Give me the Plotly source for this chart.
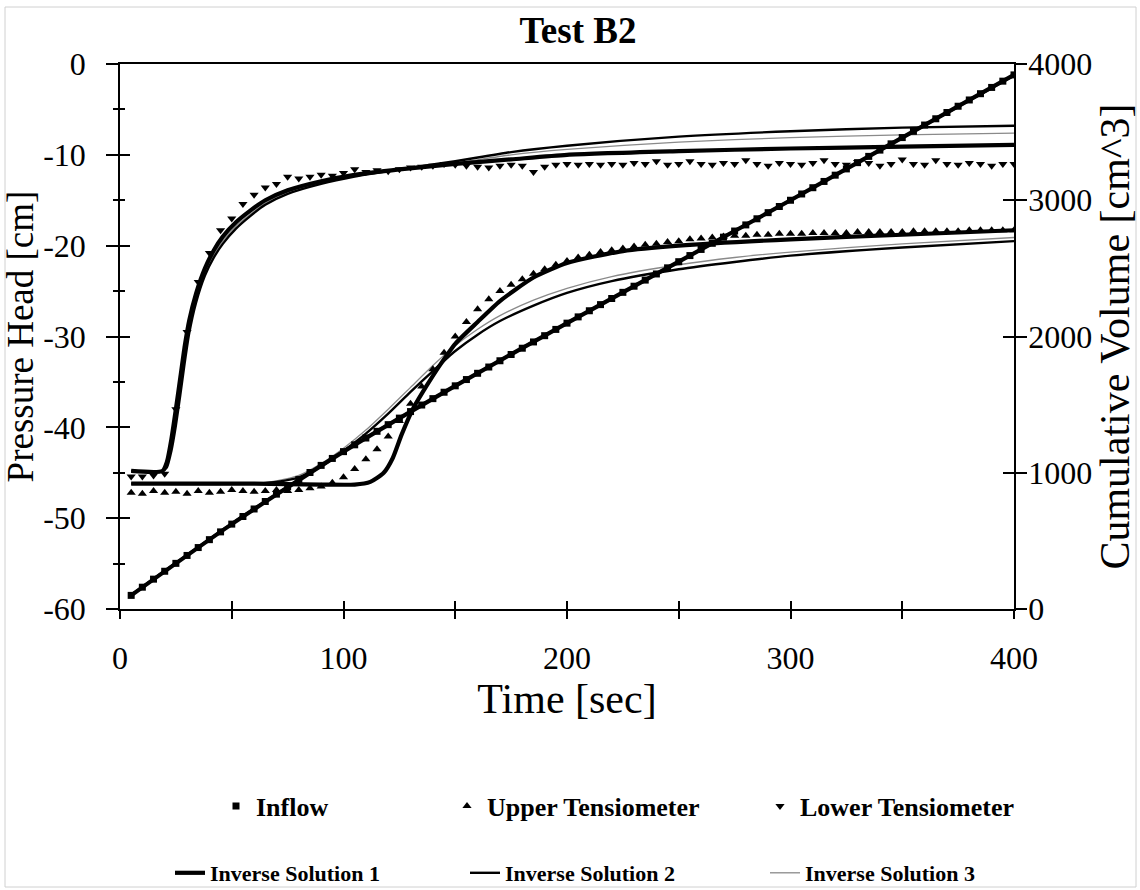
import plotly.graph_objects as go

# ---------------- data ----------------
time_obs = [5, 10, 15, 20, 25, 30, 35, 40, 45, 50,
            55, 60, 65, 70, 75, 80, 85, 90, 95, 100,
            105, 110, 115, 120, 125, 130, 135, 140, 145, 150,
            155, 160, 165, 170, 175, 180, 185, 190, 195, 200,
            205, 210, 215, 220, 225, 230, 235, 240, 245, 250,
            255, 260, 265, 270, 275, 280, 285, 290, 295, 300,
            305, 310, 315, 320, 325, 330, 335, 340, 345, 350,
            355, 360, 365, 370, 375, 380, 385, 390, 395, 400]

inflow_obs = [100, 160, 219, 277, 335, 393, 451, 509, 566, 623,
              679, 734, 789, 843, 897, 950, 1002, 1054, 1105, 1155,
              1205, 1255, 1304, 1353, 1401, 1449, 1497, 1544, 1591, 1638,
              1684, 1730, 1776, 1822, 1868, 1914, 1960, 2006, 2052, 2098,
              2144, 2189, 2234, 2279, 2324, 2369, 2414, 2459, 2504, 2549,
              2594, 2639, 2684, 2729, 2774, 2819, 2864, 2909, 2954, 3000,
              3046, 3092, 3138, 3184, 3230, 3276, 3322, 3368, 3414, 3460,
              3506, 3552, 3598, 3644, 3690, 3736, 3782, 3828, 3874, 3920]

upper_obs = [-47.2, -47.3, -47.0, -47.2, -47.1, -47.3, -47.0, -47.2, -47.1, -46.9,
             -47.0, -47.1, -47.0, -46.9, -47.0, -46.9, -46.7, -46.5, -46.1, -45.5,
             -44.6, -43.5, -42.4, -41.0, -39.3, -37.4, -35.5, -33.6, -31.8, -30.0,
             -28.4, -27.0, -25.9, -25.0, -24.3, -23.7, -23.1, -22.6, -22.1, -21.7,
             -21.3, -21.0, -20.7, -20.5, -20.3, -20.1, -19.9, -19.8, -19.6, -19.5,
             -19.3, -19.2, -19.1, -19.0, -18.9, -18.9, -18.8, -18.8, -18.7, -18.7,
             -18.7, -18.6, -18.6, -18.6, -18.6, -18.5, -18.5, -18.5, -18.5, -18.5,
             -18.4, -18.4, -18.4, -18.4, -18.4, -18.3, -18.3, -18.3, -18.3, -18.3]

lower_obs = [-45.4, -45.4, -45.3, -45.1, -38.0, -29.5, -24.0, -20.8, -18.3, -17.0,
             -15.4, -14.4, -13.6, -13.2, -12.4, -12.6, -12.4, -12.2, -12.3, -12.0,
             -11.6, -11.9, -11.7, -11.8, -11.6, -11.4, -11.3, -11.2, -11.0, -11.1,
             -11.2, -11.3, -11.4, -11.2, -11.1, -11.2, -11.9, -11.3, -11.1, -11.0,
             -11.1, -11.0, -11.1, -11.0, -11.1, -10.9, -11.0, -10.7, -11.1, -11.0,
             -10.7, -11.0, -11.1, -10.9, -11.0, -10.6, -11.0, -11.2, -10.9, -11.0,
             -11.1, -10.9, -10.6, -11.0, -11.1, -10.8, -10.9, -11.2, -11.0, -10.5,
             -11.0, -11.1, -10.6, -11.0, -11.1, -10.9, -11.0, -11.2, -11.0, -11.0]

# inverse solutions - lower tensiometer
sol_lower_t = [5, 19, 21, 23, 25, 27, 29, 31, 34, 38, 42, 46, 52, 58, 65, 75, 90,
               105, 125, 150, 175, 200, 250, 300, 350, 400]
sol1_lower = [-44.8, -44.8, -43.8, -41.3, -38.0, -34.5, -31.0, -28.2, -25.3, -22.5, -20.5,
              -19.0, -17.4, -16.2, -15.0, -13.9, -12.9, -12.2, -11.6, -11.0, -10.5, -10.0,
              -9.6, -9.3, -9.1, -8.9]
sol2_lower = [-44.8, -44.8, -44.4, -42.6, -39.8, -36.4, -32.8, -29.6, -26.3, -23.3, -21.3,
              -19.8, -18.1, -16.8, -15.5, -14.3, -13.2, -12.4, -11.6, -10.7, -9.7, -9.0,
              -8.0, -7.4, -7.0, -6.8]
sol3_lower = [-44.8, -44.8, -44.1, -42.0, -39.0, -35.5, -32.0, -29.0, -25.9, -23.0, -21.0,
              -19.5, -17.8, -16.6, -15.3, -14.1, -13.1, -12.3, -11.6, -10.9, -10.0, -9.4,
              -8.6, -8.1, -7.8, -7.6]

# inverse solutions - upper tensiometer
sol1_upper_t = [5, 60, 90, 105, 112, 118, 122, 126, 131, 137, 143, 150, 160, 170,
                185, 200, 225, 250, 300, 350, 400]
sol1_upper = [-46.2, -46.2, -46.3, -46.3, -46.0, -45.0, -43.4, -40.8, -38.0, -35.5, -33.2,
              -30.8, -28.4, -26.1, -23.5, -21.9, -20.6, -20.0, -19.3, -18.8, -18.3]
sol23_upper_t = [5, 60, 70, 80, 90, 100, 110, 120, 130, 140, 150, 160, 170, 185,
                 200, 220, 250, 275, 300, 350, 400]
sol2_upper = [-46.2, -46.2, -46.0, -45.5, -44.3, -42.6, -40.7, -38.5, -36.1, -33.8, -31.6,
              -29.8, -28.3, -26.6, -25.2, -23.9, -22.6, -21.8, -21.1, -20.2, -19.5]
sol3_upper = [-46.2, -46.2, -45.9, -45.3, -44.0, -42.3, -40.3, -38.0, -35.6, -33.2, -31.0,
              -29.2, -27.7, -26.0, -24.7, -23.4, -22.1, -21.3, -20.7, -19.8, -19.1]

# inverse solutions - cumulative inflow
sol_inflow_t = [5, 50, 100, 150, 200, 250, 300, 350, 400]
sol1_inflow = [100, 623, 1155, 1638, 2098, 2549, 3000, 3460, 3920]
sol2_inflow = [105, 628, 1158, 1640, 2100, 2550, 3002, 3458, 3915]
sol3_inflow = [102, 625, 1156, 1639, 2099, 2550, 3001, 3459, 3918]

x_ticks = [0, 100, 200, 300, 400]
y_ticks = [-60, -50, -40, -30, -20, -10, 0]
y_tick_labels = ["-60", "-50", "-40", "-30", "-20", "-10", "0"]
y2_ticks = [0, 1000, 2000, 3000, 4000]

# ---------------- styles ----------------
SERIF = "Liberation Serif, Times New Roman, serif"
sol_styles = {
    1: dict(color="black", width=4.2),
    2: dict(color="black", width=2.4),
    3: dict(color="#8a8a8a", width=1.3),
}

fig = go.Figure()

def add_line(x, y, sol, yaxis="y", show=False):
    fig.add_trace(go.Scatter(
        x=x, y=y, mode="lines", yaxis=yaxis,
        line=dict(shape="spline", smoothing=0.6, **sol_styles[sol]),
        name=f"Inverse Solution {sol}", legendgroup=f"sol{sol}",
        legend=f"legend{sol + 3}", showlegend=show, hoverinfo="skip"))

for s, ys in ((3, sol3_inflow), (2, sol2_inflow), (1, sol1_inflow)):
    add_line(sol_inflow_t, ys, s, yaxis="y2")
add_line(sol23_upper_t, sol3_upper, 3)
add_line(sol23_upper_t, sol2_upper, 2)
add_line(sol1_upper_t, sol1_upper, 1)
add_line(sol_lower_t, sol3_lower, 3, show=True)
add_line(sol_lower_t, sol2_lower, 2, show=True)
add_line(sol_lower_t, sol1_lower, 1, show=True)

fig.add_trace(go.Scatter(x=time_obs, y=inflow_obs, mode="markers", yaxis="y2",
                         name="Inflow", legend="legend",
                         marker=dict(symbol="square", size=7, color="black")))
fig.add_trace(go.Scatter(x=time_obs, y=upper_obs, mode="markers",
                         name="Upper Tensiometer", legend="legend2",
                         marker=dict(symbol="triangle-up", size=8, color="black")))
fig.add_trace(go.Scatter(x=time_obs, y=lower_obs, mode="markers",
                         name="Lower Tensiometer", legend="legend3",
                         marker=dict(symbol="triangle-down", size=8, color="black")))

# empty traces to activate the overlay axes that draw the inner halves of the ticks
fig.add_trace(go.Scatter(x=[None], y=[None], xaxis="x2", yaxis="y3",
                         showlegend=False, hoverinfo="skip"))
fig.add_trace(go.Scatter(x=[None], y=[None], xaxis="x2", yaxis="y4",
                         showlegend=False, hoverinfo="skip"))

tickfont = dict(family=SERIF, size=32, color="black")
common = dict(showgrid=False, zeroline=False, linecolor="black", linewidth=1.6,
              tickcolor="black", tickwidth=1.6)

def leg(xpx, ypx, size):
    return dict(x=xpx / 1140, y=1 - ypx / 890, xref="container", yref="container",
                xanchor="left", yanchor="middle", orientation="h",
                bgcolor="rgba(0,0,0,0)",
                font=dict(family=SERIF, size=size, color="black", weight="bold"))

fig.update_layout(
    width=1140, height=890,
    margin=dict(l=120, r=126, t=64, b=281, autoexpand=False),
    paper_bgcolor="white", plot_bgcolor="white",
    title=dict(text="<b>Test B2</b>", x=578 / 1140, xanchor="center",
               y=1 - 30 / 890, yanchor="middle", xref="container", yref="container",
               font=dict(family=SERIF, size=37, color="black")),
    xaxis=dict(range=[0, 400], tickvals=x_ticks, ticks="outside", ticklen=8,
               minor=dict(dtick=50, ticks="outside", ticklen=8, tickcolor="black", tickwidth=1.6),
               tickfont=tickfont, ticklabelstandoff=12, mirror=True,
               title=dict(text="Time [sec]", font=dict(family=SERIF, size=42, color="black"),
                          standoff=0), **common),
    xaxis2=dict(range=[0, 400], overlaying="x", anchor="y", tickvals=x_ticks,
                ticks="inside", ticklen=8, showticklabels=False,
                minor=dict(dtick=50, ticks="inside", ticklen=8, tickcolor="black", tickwidth=1.6),
                **common),
    yaxis=dict(range=[-60, 0], tickvals=y_ticks, ticktext=y_tick_labels,
               ticks="outside", ticklen=12,
               minor=dict(dtick=5, ticks="outside", ticklen=5, tickcolor="black", tickwidth=1.6),
               tickfont=tickfont, ticklabelstandoff=14,
               title=dict(text="Pressure Head [cm]", font=dict(family=SERIF, size=37, color="black"),
                          standoff=6), **common),
    yaxis2=dict(range=[0, 4000], tickvals=y2_ticks, overlaying="y", side="right",
                ticks="outside", ticklen=11, tickfont=tickfont, ticklabelstandoff=-5,
                title=dict(text="Cumulative Volume [cm^3]",
                           font=dict(family=SERIF, size=42, color="black"), standoff=0),
                **common),
    yaxis3=dict(range=[-60, 0], tickvals=y_ticks, overlaying="y", anchor="x2",
                ticks="inside", ticklen=10, showticklabels=False,
                minor=dict(dtick=5, ticks="inside", ticklen=5, tickcolor="black", tickwidth=1.6),
                **common),
    yaxis4=dict(range=[0, 4000], tickvals=y2_ticks, overlaying="y", side="right",
                anchor="x2", ticks="inside", ticklen=11, showticklabels=False, **common),
    legend=leg(216, 806, 26),
    legend2=leg(447, 806, 26),
    legend3=leg(760, 806, 26),
    legend4=leg(170, 873, 22),
    legend5=leg(465, 873, 22),
    legend6=leg(765, 873, 22),
    shapes=[dict(type="rect", xref="paper", yref="paper",
                 x0=(5 - 120) / 894, x1=(1136 - 120) / 894,
                 y0=(609 - 887) / 545, y1=(609 - 7) / 545,
                 line=dict(color="#d0d0d0", width=1), layer="below")],
    showlegend=True,
)

fig.write_html("out.html")
